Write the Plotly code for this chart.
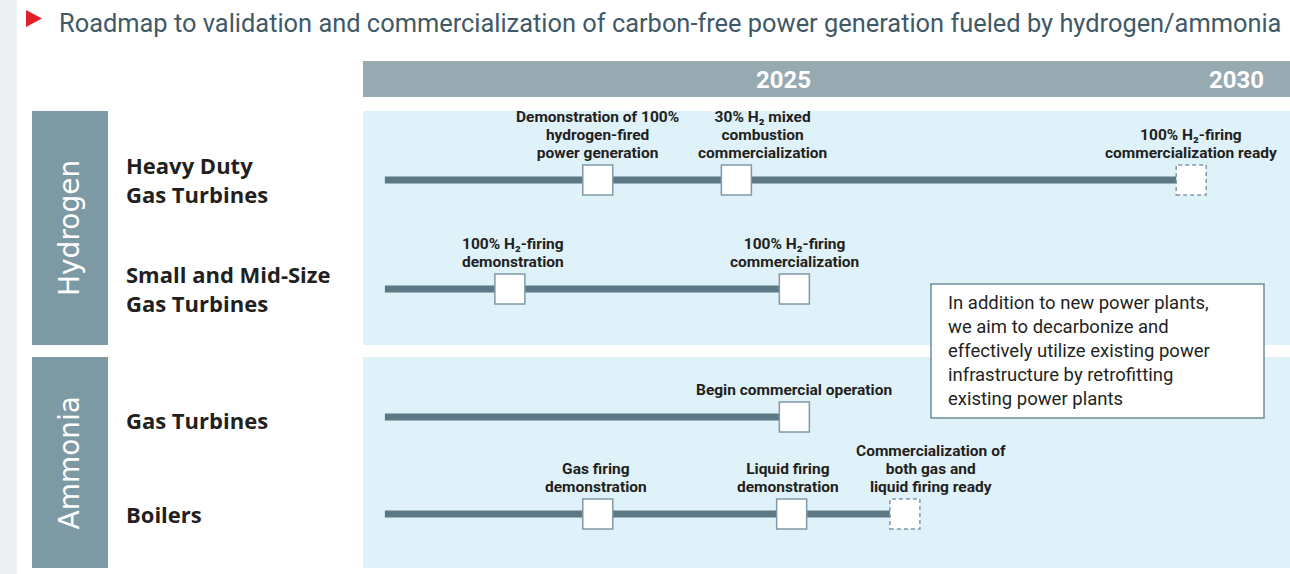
import plotly.graph_objects as go

W, H = 1290, 574

# ---- data -------------------------------------------------------------
TITLE = ("Roadmap to validation and commercialization of carbon-free power "
         "generation fueled by hydrogen/ammonia")
YEAR_TICKS = [2025, 2030]
GROUPS = ["Hydrogen", "Ammonia"]
ROW_NAMES = ["Heavy Duty<br>Gas Turbines", "Small and Mid-Size<br>Gas Turbines",
             "Gas Turbines", "Boilers"]
ROW_GROUP = ["Hydrogen", "Hydrogen", "Ammonia", "Ammonia"]
TRACK_START = 2020.6

heavy_years = [2022.95, 2024.48, 2029.50]
heavy_labels = ["Demonstration of 100%\nhydrogen-fired\npower generation",
                "30% H₂ mixed\ncombustion\ncommercialization",
                "100% H₂-firing\ncommercialization ready"]
heavy_planned = [False, False, True]

small_years = [2021.98, 2025.12]
small_labels = ["100% H₂-firing\ndemonstration",
                "100% H₂-firing\ncommercialization"]
small_planned = [False, False]

nh3_gt_years = [2025.12]
nh3_gt_labels = ["Begin commercial operation"]
nh3_gt_planned = [False]

boiler_years = [2022.95, 2025.09, 2026.34]
boiler_labels = ["Gas firing\ndemonstration",
                 "Liquid firing\ndemonstration",
                 "Commercialization of\nboth gas and\nliquid firing ready"]
boiler_planned = [False, False, True]

NOTE = ("In addition to new power plants,<br>we aim to decarbonize and<br>"
        "effectively utilize existing power<br>infrastructure by retrofitting<br>"
        "existing power plants")

ROWS = [
    (heavy_years, heavy_labels, heavy_planned),
    (small_years, small_labels, small_planned),
    (nh3_gt_years, nh3_gt_labels, nh3_gt_planned),
    (boiler_years, boiler_labels, boiler_planned),
]

# ---- layout / style ---------------------------------------------------
ROW_Y = [180, 289, 417, 514]
ROW_LABEL_DY = [-1, -1, 3, 0]
LABEL_SHIFT = [[0, 26, 0], [3, 0], [0], [-2, -4, 26]]
GROUP_SPAN = {"Hydrogen": (111, 345), "Ammonia": (357, 568)}
PX_PER_YEAR = 90.6
X2025 = 783.5
LABEL_GAP = 27      # marker centre -> centre of last label line
LABEL_SIZE = 15.5
LABEL_LINE = 18.2   # line pitch of milestone labels

TEXT = "#231F20"
LINE = "#5C7884"
BORDER = "#7F9BA6"
PANEL = "#DFF1F9"
GROUP_BOX = "#7D9AA4"
HEADER = "#97AAB2"

FONT = "Roboto"

fig = go.Figure()

shapes = []
annotations = []


def rect(x0, y0, x1, y1, color, layer="below", line=None):
    shapes.append(dict(type="rect", xref="x2", yref="y", x0=x0, x1=x1, y0=y0, y1=y1,
                       fillcolor=color, line=line or dict(width=0), layer=layer))


# background pieces
rect(0, 0, 17, H, "#ECF0F3")
rect(363, 61, W, 97, HEADER)
for g in GROUPS:
    y0, y1 = GROUP_SPAN[g]
    rect(32, y0, 108, y1, GROUP_BOX)
    rect(363, y0, W, y1, PANEL)
    annotations.append(dict(xref="x2", yref="y", x=69, y=(y0 + y1) / 2, text=g,
                            textangle=-90, showarrow=False,
                            font=dict(family="DejaVu Sans", size=28, color="white")))

# title
shapes.append(dict(type="path", xref="x2", yref="y", path="M 26 10 L 26 27 L 42 18.5 Z",
                   fillcolor="#E3202A", line=dict(width=0), layer="above"))
annotations.append(dict(xref="x2", yref="y", x=57, y=23, text=TITLE, xanchor="left",
                        showarrow=False,
                        font=dict(family=FONT, size=25.4, color="#3F5966")))

# year header
for yr in YEAR_TICKS:
    annotations.append(dict(xref="x", yref="y", x=yr, y=80, text=f"<b>{yr}</b>",
                            showarrow=False,
                            font=dict(family=FONT, size=24, color="white")))

# rows
for i, (years, labels, planned) in enumerate(ROWS):
    y = ROW_Y[i]
    annotations.append(dict(xref="x2", yref="y", x=124, y=y + ROW_LABEL_DY[i],
                            text=f"<b>{ROW_NAMES[i]}</b>", xanchor="left", align="left",
                            showarrow=False,
                            font=dict(family="Open Sans", size=22, color=TEXT)))
    fig.add_trace(go.Scatter(x=[TRACK_START, years[-1]], y=[y, y], mode="lines",
                             line=dict(color=LINE, width=7), hoverinfo="skip"))
    solid = [yr for yr, p in zip(years, planned) if not p]
    fig.add_trace(go.Scatter(x=solid, y=[y] * len(solid), mode="markers",
                             marker=dict(symbol="square", size=30, color="white",
                                         line=dict(color=BORDER, width=1.5)),
                             hoverinfo="skip"))
    for yr, p in zip(years, planned):
        if p:
            shapes.append(dict(type="rect", xref="x", yref="y", xsizemode="pixel",
                               ysizemode="pixel", xanchor=yr, yanchor=y,
                               x0=-15, x1=15, y0=-15, y1=15, fillcolor="white",
                               line=dict(color=BORDER, width=1.5, dash="4px,3px"),
                               layer="above"))
    for j, (yr, lab) in enumerate(zip(years, labels)):
        lines = lab.split("\n")
        n = len(lines)
        text = "<br>".join(f"<span style='font-size:{LABEL_SIZE}px'><b>{t}</b></span>"
                           for t in lines)
        annotations.append(dict(xref="x", yref="y", x=yr,
                                y=y - LABEL_GAP - LABEL_LINE * (n - 1) / 2,
                                xshift=LABEL_SHIFT[i][j], text=text,
                                showarrow=False, borderpad=0,
                                font=dict(family=FONT, size=LABEL_LINE / 1.3,
                                          color=TEXT)))

# callout box
rect(931, 284, 1264, 418, "white", layer="above", line=dict(color="#6F8D99", width=1.5))
annotations.append(dict(xref="x2", yref="y", x=946, y=351, text=NOTE, xanchor="left",
                        align="left", showarrow=False,
                        font=dict(family=FONT, size=18.5, color=TEXT)))

x0 = 2025 - X2025 / PX_PER_YEAR
x1 = 2025 + (W - X2025) / PX_PER_YEAR

fig.update_layout(
    width=W, height=H,
    margin=dict(l=0, r=0, t=0, b=0),
    paper_bgcolor="white", plot_bgcolor="white",
    showlegend=False,
    xaxis=dict(range=[x0, x1], visible=False, fixedrange=True),
    xaxis2=dict(range=[0, W], visible=False, overlaying="x", fixedrange=True),
    yaxis=dict(range=[H, 0], visible=False, fixedrange=True),
    shapes=shapes,
    annotations=annotations,
)

fig.write_html("out.html", config={"displayModeBar": False},
               post_script="document.body.style.margin='0';document.body.style.overflow='hidden';")
